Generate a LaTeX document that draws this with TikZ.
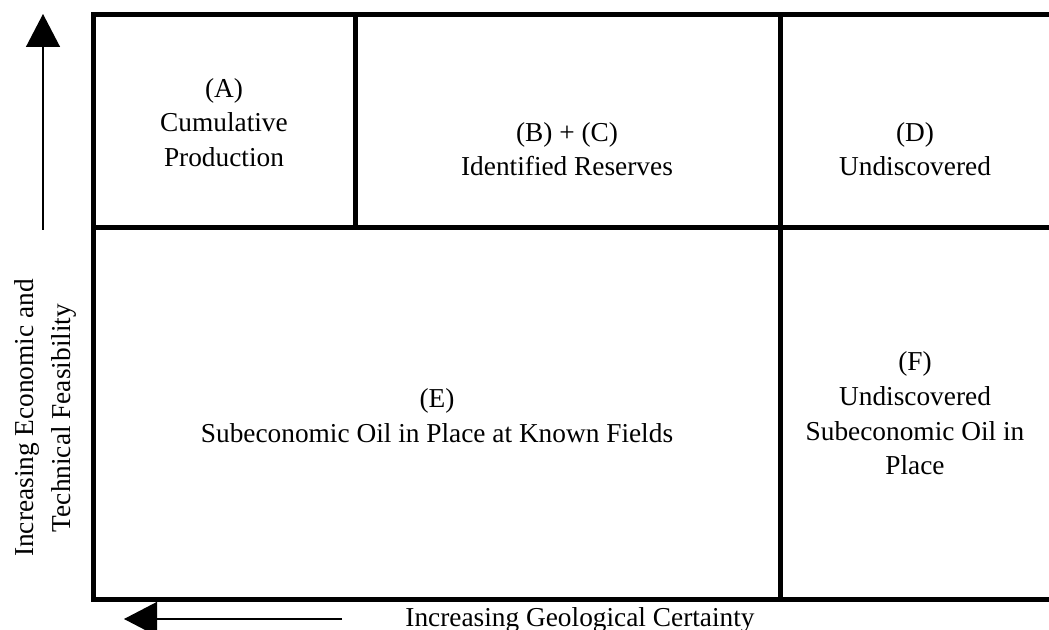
\documentclass[tikz,border=0pt]{standalone}
\usepackage{fontspec}
\setmainfont{Liberation Serif}
\usepackage{tikz}
\usetikzlibrary{arrows.meta}

\begin{document}
\begin{tikzpicture}[x=0.75pt, y=-0.75pt, frame/.style={line width=3.75pt}, lbl/.style={align=center, font=\fontsize{20.5}{26}\selectfont}, ax/.style={line width=1pt, -{Triangle[length=24.75pt, width=25.5pt]}}]
                \useasboundingbox (0,0) rectangle (1049,630);
                % frame
                \draw[frame] (1049,14.5) -| (93,599.5) -- (1049,599.5);
                \draw[frame] (93,228) -- (1049,228);
                \draw[frame] (355,14.5) -- (355,228);
                \draw[frame] (780,14.5) -- (780,599.5);
                % nodes
                \node[lbl] (prod) at (224,122.5) {(A)\\Cumulative\\Production};
                \node[lbl] (resv) at (567,149) {(B) + (C)\\Identified Reserves};
                \node[lbl] (undisc) at (915,149) {(D)\\Undiscovered};
                \node[lbl] (known) at (437,415.5) {(E)\\Subeconomic Oil in Place at Known Fields};
                \node[lbl] (subec) at (915,413.5) {(F)\\Undiscovered\\Subeconomic Oil in\\Place};
                \node[lbl, rotate=90, anchor=base] (econ) at (33,418) {Increasing Economic and};
                \node[lbl, rotate=90, anchor=base] (tech) at (70,418) {Technical Feasibility};
                \node[lbl, anchor=base] (geo) at (580,626) {Increasing Geological Certainty};
                \coordinate (upfoot) at (43,230);
                \coordinate (uptip) at (43,14);
                \coordinate (leftfoot) at (342,619);
                \coordinate (lefttip) at (124,619);
                % arrows
                \draw [ax] (upfoot) -- (uptip);
                \draw [ax] (leftfoot) -- (lefttip);
            \end{tikzpicture}
\end{document}
